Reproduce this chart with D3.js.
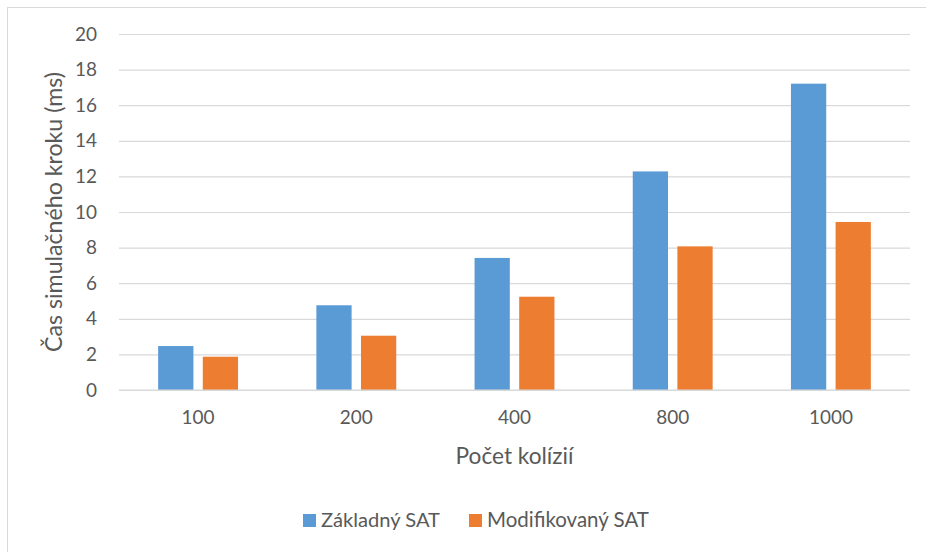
<!DOCTYPE html>
<html>
<head>
<meta charset="utf-8">
<script src="https://cdn.jsdelivr.net/npm/d3@7"></script>
<style>
  html, body { margin: 0; padding: 0; background: #fff; }
  svg { display: block; }
  text { font-family: Lato, "Open Sans", sans-serif; fill: #595959; }
</style>
</head>
<body>
<svg id="chart" width="926" height="552"></svg>
<script>
// Step time of the simulation per number of collisions
const categories = ["100", "200", "400", "800", "1000"];
const seriesNames = ["Základný SAT", "Modifikovaný SAT"];
const basicSAT = [2.47, 4.76, 7.42, 12.28, 17.21];
const modifiedSAT = [1.87, 3.05, 5.24, 8.07, 9.44];
const yTicks = [0, 2, 4, 6, 8, 10, 12, 14, 16, 18, 20];
const xTitle = "Počet kolízií";
const yTitle = "Čas simulačného kroku (ms)";
const colors = ["#5B9BD5", "#ED7D31"];

const seriesValues = [basicSAT, modifiedSAT];
const rows = categories.map((c, i) => ({
  cat: c,
  values: seriesNames.map((s, j) => ({ series: s, value: seriesValues[j][i] }))
}));

const svg = d3.select("#chart");
const W = 926, H = 552;
const plot = { left: 119, right: 910, top: 34, bottom: 390 };
const fontStack = "Lato, 'Open Sans', sans-serif";

// Pick a font size so that a text element spans the wanted width
function fitSize(sel, width) {
  const base = 20;
  sel.attr("font-size", base);
  const w = sel.node().getComputedTextLength();
  const size = base * width / w;
  sel.attr("font-size", size);
  return size;
}

// Chart area frame
svg.append("rect")
  .attr("x", 7.5).attr("y", 7.5)
  .attr("width", W + 20).attr("height", H + 20)
  .attr("fill", "#fff").attr("stroke", "#D9D9D9").attr("stroke-width", 1);

const x = d3.scaleBand()
  .domain(categories)
  .range([plot.left, plot.right])
  .paddingInner(0.495)
  .paddingOuter(0.2475);

const xs = d3.scaleBand()
  .domain(seriesNames)
  .range([0, x.bandwidth()])
  .paddingInner(0.21);

const y = d3.scaleLinear().domain([0, 20]).range([plot.bottom, plot.top]);

// Horizontal gridlines with tick labels
const yAxis = d3.axisLeft(y)
  .tickValues(yTicks)
  .tickSize(-(plot.right - plot.left))
  .tickPadding(22)
  .tickFormat(d3.format("d"));

const gy = svg.append("g")
  .attr("transform", `translate(${plot.left},0)`)
  .call(yAxis);
gy.select(".domain").remove();
gy.selectAll(".tick line").attr("stroke", "#D9D9D9").attr("stroke-width", 1.2);

// Category axis labels
const xAxis = d3.axisBottom(x).tickSize(0).tickPadding(21);
const gx = svg.append("g")
  .attr("transform", `translate(0,${plot.bottom})`)
  .call(xAxis);
gx.select(".domain").remove();

const tickTexts = svg.selectAll(".tick text")
  .style("fill", "#595959")
  .attr("font-family", fontStack);
const widest = gx.selectAll(".tick text").filter(d => d === "1000");
const tickSize = fitSize(widest, 44);
tickTexts.attr("font-size", tickSize);

// Bars
const groups = svg.append("g").selectAll("g")
  .data(rows)
  .join("g")
  .attr("transform", d => `translate(${x(d.cat)},0)`);

groups.selectAll("rect")
  .data(d => d.values)
  .join("rect")
  .attr("x", d => xs(d.series))
  .attr("width", xs.bandwidth())
  .attr("y", d => y(d.value))
  .attr("height", d => y(0) - y(d.value))
  .attr("fill", (d, i) => colors[i]);

// Baseline
svg.append("line")
  .attr("x1", plot.left).attr("x2", plot.right)
  .attr("y1", y(0)).attr("y2", y(0))
  .attr("stroke", "#D9D9D9").attr("stroke-width", 1.2);

// Axis titles
const xt = svg.append("text")
  .attr("x", (plot.left + plot.right) / 2)
  .attr("y", 464)
  .attr("text-anchor", "middle")
  .text(xTitle);
fitSize(xt, 118);

const yt = svg.append("text")
  .attr("transform", `translate(62,${(plot.top + plot.bottom) / 2}) rotate(-90)`)
  .attr("text-anchor", "middle")
  .text(yTitle);
fitSize(yt, 280);

// Legend
const legendItems = [
  { name: seriesNames[0], color: colors[0], x: 303, w: 119 },
  { name: seriesNames[1], color: colors[1], x: 469, w: 162 }
];
const lg = svg.append("g").selectAll("g")
  .data(legendItems)
  .join("g")
  .attr("transform", d => `translate(${d.x},514)`);
lg.append("rect")
  .attr("width", 13).attr("height", 13)
  .attr("fill", d => d.color);
lg.append("text")
  .attr("x", 18).attr("y", 13)
  .text(d => d.name)
  .each(function (d) { fitSize(d3.select(this), d.w); });
</script>
</body>
</html>
